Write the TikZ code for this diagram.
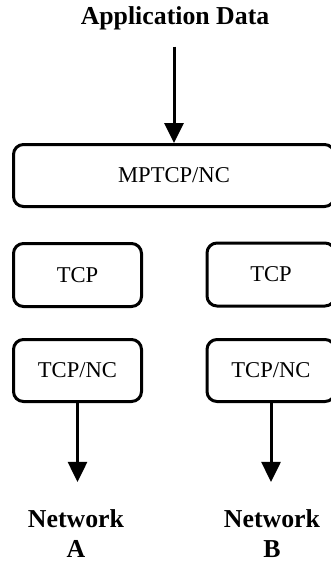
\documentclass[tikz,border=0pt]{standalone}
\usepackage{fontspec}
\setmainfont{Liberation Serif}
\usetikzlibrary{arrows.meta}
\tikzset{
  layer/.style={draw, line width=3pt, rounded corners=10pt, inner sep=0pt,
    font=\fontsize{22.6}{26}\selectfont},
  label text/.style={inner sep=0pt, align=center,
    font=\bfseries\fontsize{25.8}{30}\selectfont},
  flow/.style={line width=3pt, -{Triangle[length=20pt,width=19pt]}}
}
\begin{document}
\begin{tikzpicture}[x=1pt,y=-1pt]
\useasboundingbox (0,0) rectangle (331,563);
% application input
\node[label text, anchor=base] (app) at (175,24) {Application Data};
% protocol stack
\node[layer, minimum width=321pt, minimum height=62pt] (mptcp) at (174,175.5) {MPTCP/NC};
\node[layer, minimum width=128pt, minimum height=63pt] (tcpA) at (77.5,275) {TCP};
\node[layer, minimum width=128pt, minimum height=63pt] (tcpB) at (271,274.5) {TCP};
\node[layer, minimum width=128pt, minimum height=62pt] (ncA) at (77.5,370.5) {TCP/NC};
\node[layer, minimum width=128pt, minimum height=62pt] (ncB) at (271,370.5) {TCP/NC};
% network endpoints (base = baseline of the last line)
\node[label text, anchor=base] (netA) at (76,557) {Network\\A};
\node[label text, anchor=base] (netB) at (272,557) {Network\\B};
% data flow
\draw[flow, shorten <=17pt] (app.south -| mptcp.north) -- (mptcp.north);
\draw[flow, shorten >=27pt] (ncA.south) -- (ncA.south |- netA.north);
\draw[flow, shorten >=27pt] (ncB.south) -- (ncB.south |- netB.north);
\end{tikzpicture}
\end{document}
